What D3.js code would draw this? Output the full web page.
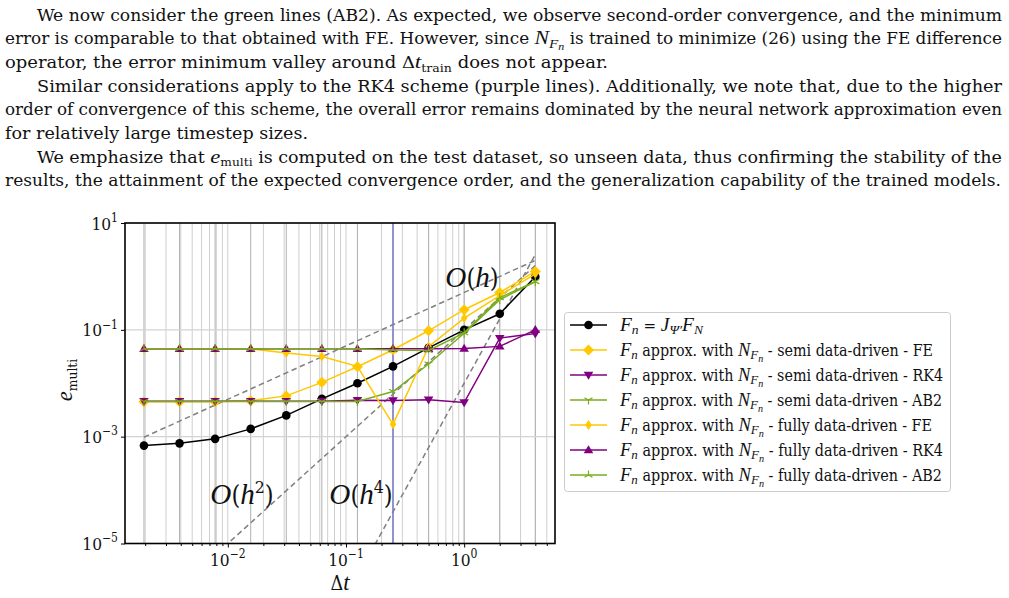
<!DOCTYPE html>
<html>
<head>
<meta charset="utf-8">
<script src="https://cdn.jsdelivr.net/npm/d3@7"></script>
<style>
  body { margin: 0; background: #fff; }
  svg text { white-space: pre; fill: #111; }
</style>
</head>
<body>
<svg id="fig" width="1009" height="598"></svg>
<script>
// ── Data ──────────────────────────────────────────────────────────────────
const dt = [0.001953125, 0.00390625, 0.0078125, 0.015625, 0.03125, 0.0625, 0.125, 0.25, 0.5, 1, 2, 4];
const errExact   = [6.8e-4, 7.5e-4, 9.1e-4, 1.4e-3, 2.5e-3, 5.1e-3, 1.0e-2, 2.07e-2, 4.6e-2, 0.1, 0.2, 0.99];
const errSemiFE  = [4.5e-3, 4.5e-3, 4.5e-3, 4.7e-3, 5.8e-3, 1.04e-2, 2.04e-2, 4.24e-2, 9.6e-2, 0.238, 0.50, 1.24];
const errSemiRK4 = [4.6e-3, 4.6e-3, 4.6e-3, 4.6e-3, 4.6e-3, 4.6e-3, 4.8e-3, 4.76e-3, 4.9e-3, 4.36e-3, 0.070, 0.085];
const errSemiAB2 = [4.56e-3, 4.56e-3, 4.56e-3, 4.56e-3, 4.56e-3, 4.56e-3, 4.56e-3, 7.0e-3, 0.0229, 0.0863, 0.366, 0.80];
const errFullFE  = [0.0443, 0.0443, 0.0443, 0.0443, 0.0368, 0.0318, 0.0207, 1.7e-3, 0.0483, 0.166, 0.435, 1.12];
const errFullRK4 = [0.0443, 0.0443, 0.0443, 0.0443, 0.0443, 0.0443, 0.0443, 0.0443, 0.0443, 0.0445, 0.049, 0.10];
const errFullAB2 = [0.0443, 0.0443, 0.0443, 0.0443, 0.0443, 0.0443, 0.0443, 0.042, 0.041, 0.088, 0.40, 0.80];

// reference slopes, given by their two end points (dt, error)
const refH1 = [[0.001953125, 9.77e-4], [4, 2.0]];
const refH2 = [[0.001953125, 3.8e-7], [4, 1.6]];
const refH4 = [[0.001953125, 1.46e-13], [4, 2.56]];
const dtTrain = 0.25;

const xTickVals = [0.01, 0.1, 1];
const xTickExps = ['−2', '−1', '0'];
const yTickVals = [10, 0.1, 1e-3, 1e-5];
const yTickExps = ['1', '−1', '−3', '−5'];

const seriesKeys    = ['exact', 'semiFE', 'semiRK4', 'semiAB2', 'fullFE', 'fullRK4', 'fullAB2'];
const seriesValues  = [errExact, errSemiFE, errSemiRK4, errSemiAB2, errFullFE, errFullRK4, errFullAB2];
const seriesColors  = ['#000000', '#ffc800', '#800080', '#7aad1c', '#ffc800', '#800080', '#7aad1c'];
const seriesMarkers = ['o', 'D', 'v', '1', 'd', '^', '2'];
const seriesTails   = ['', ' - semi data-driven - FE', ' - semi data-driven - RK4', ' - semi data-driven - AB2',
                       ' - fully data-driven - FE', ' - fully data-driven - RK4', ' - fully data-driven - AB2'];

const UPRIGHT = "'DejaVu Serif Condensed', 'DejaVu Serif', serif";
const ITALIC  = "'Liberation Serif', 'DejaVu Serif', serif";

// ── Rich text helpers ─────────────────────────────────────────────────────
const T  = t => ({ t });
const I  = t => ({ t, i: 1 });
const S  = (t, i) => ({ t, i, l: 1 });
const SS = (t, i) => ({ t, i, l: 2 });
const P  = t => ({ t, l: -1 });

function rich(sel, segs, fs) {
  const off  = { '0': 0, '1': 0.22 * fs, '2': 0.36 * fs, '-1': -0.42 * fs };
  const size = { '0': fs, '1': 0.7 * fs, '2': 0.55 * fs, '-1': 0.7 * fs };
  let cur = 0;
  sel.attr('font-family', UPRIGHT);
  segs.forEach(s => {
    const lv = String(s.l || 0);
    sel.append('tspan')
      .attr('dy', (off[lv] - cur).toFixed(2))
      .attr('font-size', s.i ? size[lv] * 1.08 : size[lv] * 0.93)
      .attr('font-family', s.i ? ITALIC : UPRIGHT)
      .attr('font-style', s.i ? 'italic' : null)
      .text(s.t);
    cur = off[lv];
  });
  return sel;
}

const svg = d3.select('#fig');
svg.append('rect').attr('width', 1009).attr('height', 598).attr('fill', '#fff');

// ── Paragraph text ────────────────────────────────────────────────────────
const NFn = [I('N'), S('F', 1), SS('n', 1)];
const paraLines = [
  [37, 965, [T('We now consider the green lines (AB2). As expected, we observe second-order convergence, and the minimum')]],
  [5, 997, [T('error is comparable to that obtained with FE. However, since '), ...NFn, T(' is trained to minimize (26) using the FE difference')]],
  [5, 603, [T('operator, the error minimum valley around Δ'), I('t'), S('train'), T(' does not appear.')]],
  [37, 965, [T('Similar considerations apply to the RK4 scheme (purple lines). Additionally, we note that, due to the higher')]],
  [5, 997, [T('order of convergence of this scheme, the overall error remains dominated by the neural network approximation even')]],
  [5, 303, [T('for relatively large timestep sizes.')]],
  [37, 965, [T('We emphasize that '), I('e'), S('multi'), T(' is computed on the test dataset, so unseen data, thus confirming the stability of the')]],
  [5, 996, [T('results, the attainment of the expected convergence order, and the generalization capability of the trained models.')]]
];
paraLines.forEach(([x0, w, segs], i) => {
  const t = svg.append('text').attr('x', x0).attr('y', 20.5 + i * 23.7)
    .attr('font-size', 17)
    .attr('textLength', w).attr('lengthAdjust', 'spacingAndGlyphs');
  rich(t, segs, 17);
});

// ── Chart ─────────────────────────────────────────────────────────────────
const plotL = 125, plotR = 555, plotT = 223, plotB = 543.5;
const x = d3.scaleLog().domain([0.00135, 5.87]).range([plotL, plotR]);
const y = d3.scaleLog().domain([1e-5, 10]).range([plotB, plotT]);

svg.append('defs').append('clipPath').attr('id', 'clip')
  .append('rect').attr('x', plotL).attr('y', plotT).attr('width', plotR - plotL).attr('height', plotB - plotT);

const grid = svg.append('g');
const allX = x.ticks();
grid.selectAll('line.gx').data(allX).join('line')
  .attr('x1', d => x(d)).attr('x2', d => x(d)).attr('y1', plotT).attr('y2', plotB)
  .attr('stroke', '#cfcfcf').attr('stroke-width', 1);
grid.selectAll('line.gd').data(dt).join('line')
  .attr('x1', d => x(d)).attr('x2', d => x(d)).attr('y1', plotT).attr('y2', plotB)
  .attr('stroke', '#b0b0b0').attr('stroke-width', 1);
grid.selectAll('line.gy').data(yTickVals).join('line')
  .attr('x1', plotL).attr('x2', plotR).attr('y1', d => y(d)).attr('y2', d => y(d))
  .attr('stroke', '#d3d3d3').attr('stroke-width', 1.2);

const plot = svg.append('g').attr('clip-path', 'url(#clip)');
const line = d3.line().x(d => x(d[0])).y(d => y(d[1]));

[refH1, refH2, refH4].forEach(r => {
  plot.append('path').attr('d', line(r)).attr('fill', 'none')
    .attr('stroke', '#808080').attr('stroke-width', 1.5).attr('stroke-dasharray', '5.5,3.5');
});

plot.append('line').attr('x1', x(dtTrain)).attr('x2', x(dtTrain)).attr('y1', plotT).attr('y2', plotB)
  .attr('stroke', '#7b7bcc').attr('stroke-width', 1.5);

function marker(g, type, color) {
  const tri = (s) => d3.range(3).map(k => {
    const a = s * Math.PI / 180 + k * 2 * Math.PI / 3;
    return [4.6 * Math.sin(a), -4.6 * Math.cos(a)];
  });
  if (type === 'o') {
    g.append('circle').attr('r', 4.3).attr('fill', color);
  } else if (type === 'D') {
    g.append('path').attr('d', 'M0,-5.5L5.5,0L0,5.5L-5.5,0Z').attr('fill', color);
  } else if (type === 'd') {
    g.append('path').attr('d', 'M0,-5L3.3,0L0,5L-3.3,0Z').attr('fill', color);
  } else if (type === 'v') {
    g.append('path').attr('d', 'M-4.8,-3.2L4.8,-3.2L0,4.8Z').attr('fill', color);
  } else if (type === '^') {
    g.append('path').attr('d', 'M-4.8,3.2L4.8,3.2L0,-4.8Z').attr('fill', color);
  } else {
    const pts = tri(type === '1' ? 180 : 0);
    g.append('path').attr('d', pts.map(p => `M0,0L${p[0]},${p[1]}`).join(''))
      .attr('stroke', color).attr('stroke-width', 1.2).attr('fill', 'none');
  }
}

seriesKeys.forEach((key, si) => {
  const pts = dt.map((d, i) => [d, seriesValues[si][i]]);
  const g = plot.append('g').attr('class', key);
  g.append('path').attr('d', line(pts)).attr('fill', 'none')
    .attr('stroke', seriesColors[si]).attr('stroke-width', 1.5);
  g.selectAll('g.m').data(pts).join('g').attr('class', 'm')
    .attr('transform', d => `translate(${x(d[0])},${y(d[1])})`)
    .each(function () { marker(d3.select(this), seriesMarkers[si], seriesColors[si]); });
});

// frame and ticks
svg.append('rect').attr('x', plotL).attr('y', plotT).attr('width', plotR - plotL).attr('height', plotB - plotT)
  .attr('fill', 'none').attr('stroke', '#000').attr('stroke-width', 1.6);

const gx = svg.append('g').attr('transform', `translate(0,${plotB})`)
  .call(d3.axisBottom(x).tickValues(xTickVals).tickSize(4).tickFormat(''));
const gxm = svg.append('g').attr('transform', `translate(0,${plotB})`)
  .call(d3.axisBottom(x).tickValues(allX.filter(v => !xTickVals.includes(v))).tickSize(2.5).tickFormat(''));
const gy = svg.append('g').attr('transform', `translate(${plotL},0)`)
  .call(d3.axisLeft(y).tickValues(yTickVals).tickSize(4).tickFormat(''));
[gx, gxm, gy].forEach(g => { g.select('.domain').remove(); g.selectAll('line').attr('stroke', '#000').attr('stroke-width', 1); });

xTickVals.forEach((v, i) => {
  const t = svg.append('text').attr('x', x(v)).attr('y', 566).attr('text-anchor', 'middle');
  rich(t, [T('10'), P(xTickExps[i])], 18.5);
});
yTickVals.forEach((v, i) => {
  const t = svg.append('text').attr('x', 118).attr('y', y(v) + 6.5).attr('text-anchor', 'end');
  rich(t, [T('10'), P(yTickExps[i])], 18.5);
});

rich(svg.append('text').attr('x', 340).attr('y', 590).attr('text-anchor', 'middle'), [T('Δ'), I('t')], 21);
rich(svg.append('text').attr('transform', 'translate(72,380) rotate(-90)').attr('text-anchor', 'middle'),
  [I('e'), S('multi')], 21);

// order labels
[[472, 287, null], [242, 504, '2'], [361, 504, '4']].forEach(([lx, ly, p]) => {
  const segs = [I('O'), T('('), I('h')];
  if (p) segs.push(P(p));
  segs.push({ t: ')', l: 0 });
  rich(svg.append('text').attr('x', lx).attr('y', ly).attr('text-anchor', 'middle'), segs, 27);
});

// ── Legend ────────────────────────────────────────────────────────────────
const leg = svg.append('g');
leg.append('rect').attr('x', 564.5).attr('y', 312.5).attr('width', 386).attr('height', 179).attr('rx', 3)
  .attr('fill', '#fff').attr('stroke', '#cccccc').attr('stroke-width', 1);
const legW = [83, 313, 323, 322, 312, 323, 322];
seriesKeys.forEach((key, si) => {
  const cy = 325 + si * 25;
  leg.append('line').attr('x1', 570).attr('x2', 607).attr('y1', cy).attr('y2', cy)
    .attr('stroke', seriesColors[si]).attr('stroke-width', 1.5);
  marker(leg.append('g').attr('transform', `translate(588.5,${cy})`), seriesMarkers[si], seriesColors[si]);
  const segs = si === 0
    ? [I('F'), S('n', 1), T(' = '), I('J'), S('Ψ′', 1), I('F'), S('N', 1)]
    : [I('F'), S('n', 1), T(' approx. with '), ...NFn, T(seriesTails[si])];
  const t = leg.append('text').attr('x', 620).attr('y', cy + 5.5)
    .attr('textLength', legW[si]).attr('lengthAdjust', 'spacingAndGlyphs');
  rich(t, segs, 17);
});
</script>
</body>
</html>
